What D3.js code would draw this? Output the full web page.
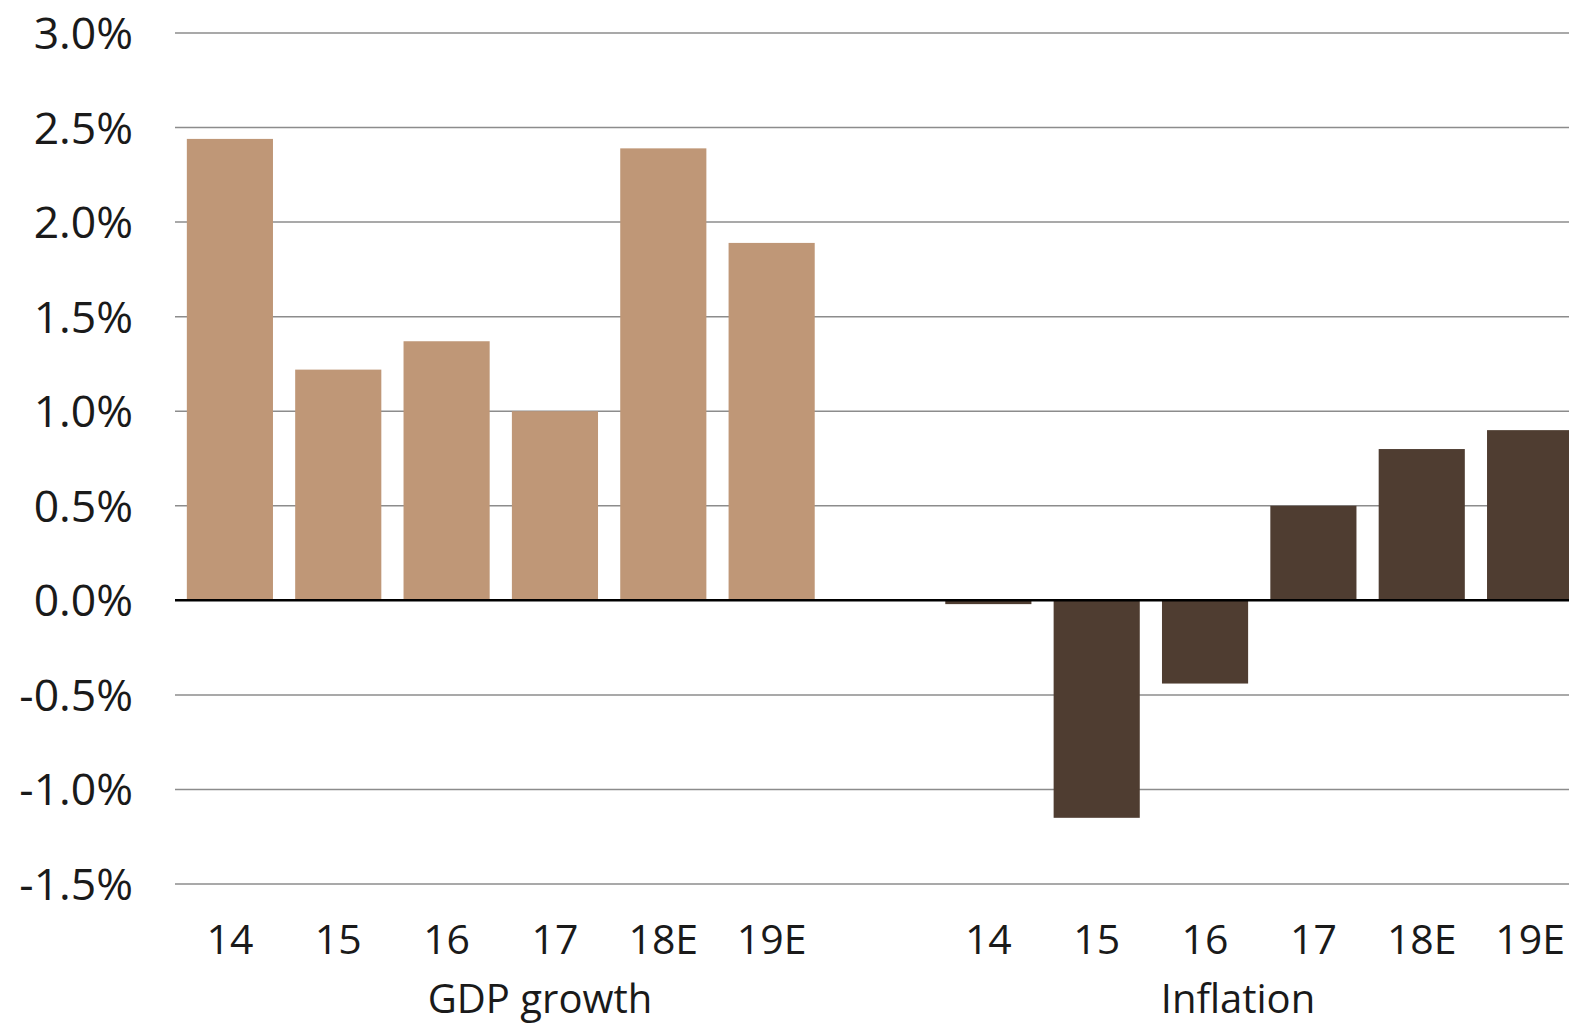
<!DOCTYPE html>
<html>
<head>
<meta charset="utf-8">
<script src="https://cdn.jsdelivr.net/npm/d3@7"></script>
<style>
  html, body { margin: 0; padding: 0; background: #fff; }
  svg { display: block; }
  text { font-family: "Open Sans", "Noto Sans", sans-serif; fill: #1a1a1a; }
</style>
</head>
<body>
<svg id="chart" width="1569" height="1025"></svg>
<script>
// Years shown under each group
const years = ["14", "15", "16", "17", "18E", "19E"];
// Annual GDP growth, %
const gdpGrowth = [2.44, 1.22, 1.37, 1.0, 2.39, 1.89];
// Annual inflation, %
const inflation = [-0.02, -1.15, -0.44, 0.5, 0.8, 0.9];
// Group captions
const groups = ["GDP growth", "Inflation"];
// Y axis ticks, %
const yTicks = [-1.5, -1.0, -0.5, 0.0, 0.5, 1.0, 1.5, 2.0, 2.5, 3.0];

const colors = { "GDP growth": "#BF9777", "Inflation": "#4F3D31" };

// Build one row per bar, with an empty slot between the two groups
const rows = [];
years.forEach((y, i) => rows.push({ key: "g" + y, year: y, value: gdpGrowth[i], group: groups[0] }));
const gapKey = "gap";
years.forEach((y, i) => rows.push({ key: "i" + y, year: y, value: inflation[i], group: groups[1] }));
const slots = rows.slice(0, 6).map(d => d.key).concat([gapKey], rows.slice(6).map(d => d.key));

const svg = d3.select("#chart");

const x = d3.scaleBand()
  .domain(slots)
  .range([176, 1584])
  .paddingInner(0.205)
  .paddingOuter(0.1);

const y = d3.scaleLinear().domain([-1.5, 3.0]).range([884, 33]);

// Percent labels with a plain hyphen for negatives
const pct = d => d3.format(".1f")(d).replace("\u2212", "-") + "%";

// Horizontal gridlines
svg.append("g")
  .selectAll("line")
  .data(yTicks.filter(t => t !== 0))
  .join("line")
  .attr("x1", 175).attr("x2", 1569)
  .attr("y1", d => y(d)).attr("y2", d => y(d))
  .attr("stroke", "#8c8c8c")
  .attr("stroke-width", 1.5);

// Y tick labels
svg.append("g")
  .selectAll("text")
  .data(yTicks)
  .join("text")
  .attr("x", 133)
  .attr("y", d => y(d) + 16)
  .attr("text-anchor", "end")
  .attr("font-size", 44.5)
  .text(pct);

// Bars
svg.append("g")
  .selectAll("rect")
  .data(rows)
  .join("rect")
  .attr("x", d => x(d.key))
  .attr("width", x.bandwidth())
  .attr("y", d => y(Math.max(0, d.value)))
  .attr("height", d => Math.abs(y(d.value) - y(0)))
  .attr("fill", d => colors[d.group]);

// Zero line
svg.append("line")
  .attr("x1", 175).attr("x2", 1569)
  .attr("y1", y(0)).attr("y2", y(0))
  .attr("stroke", "#000")
  .attr("stroke-width", 2.5);

// Year labels
svg.append("g")
  .selectAll("text")
  .data(rows)
  .join("text")
  .attr("x", d => x(d.key) + x.bandwidth() / 2)
  .attr("y", 954)
  .attr("text-anchor", "middle")
  .attr("font-size", 41)
  .text(d => d.year);

// Group captions
const captionX = { "GDP growth": 540, "Inflation": 1238 };
svg.append("g")
  .selectAll("text")
  .data(groups)
  .join("text")
  .attr("x", d => captionX[d])
  .attr("y", 1013)
  .attr("text-anchor", "middle")
  .attr("font-size", 40)
  .text(d => d);
</script>
</body>
</html>
